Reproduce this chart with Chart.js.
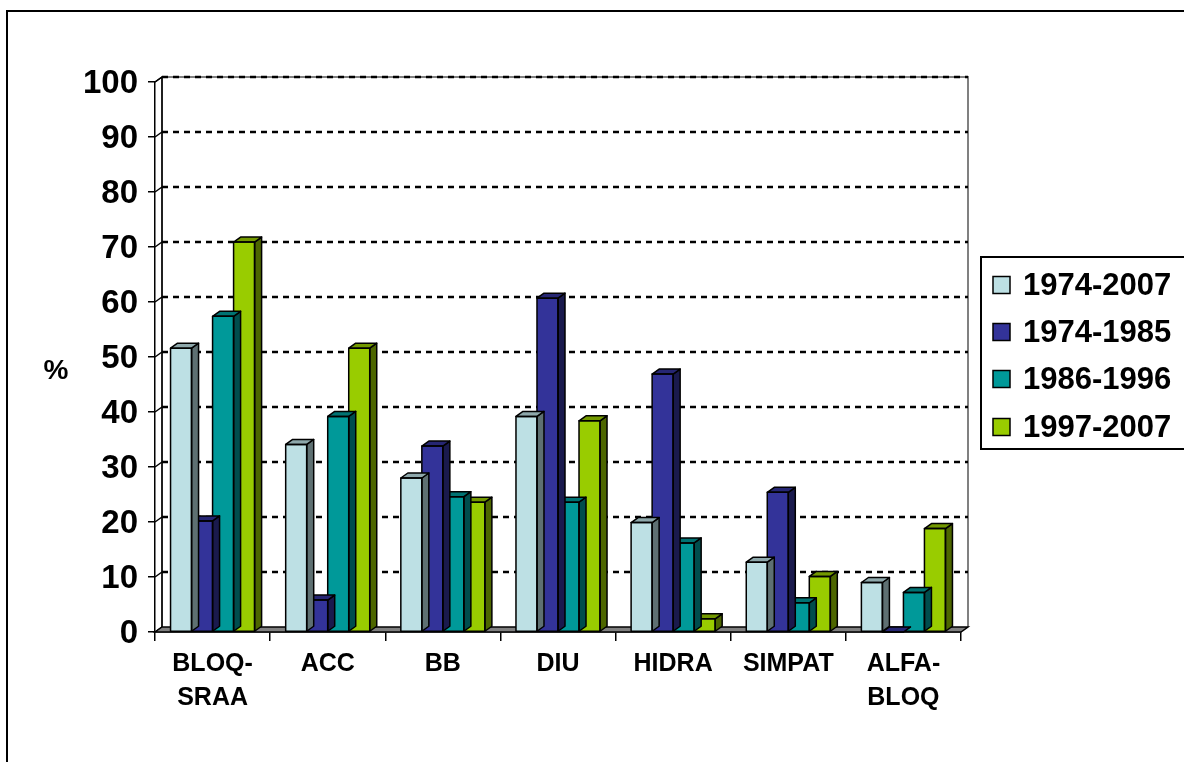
<!DOCTYPE html>
<html>
<head>
<meta charset="utf-8">
<script src="https://cdn.jsdelivr.net/npm/chart.js@4/dist/chart.umd.min.js"></script>
<style>
  html, body { margin: 0; padding: 0; background: #fff; }
  canvas { display: block; }
</style>
</head>
<body>
<canvas id="chart" width="1184" height="762"></canvas>
<script>
// Categories (multi-line labels as arrays)
const categories = [['BLOQ-', 'SRAA'], 'ACC', 'BB', 'DIU', 'HIDRA', 'SIMPAT', ['ALFA-', 'BLOQ']];

// Series values, in %
const period1974_2007 = [51.6, 34.1, 28.0, 39.2, 19.9, 12.7, 9.0];
const period1974_1985 = [20.2, 5.8, 33.8, 60.7, 46.9, 25.4, 0];
const period1986_1996 = [57.4, 39.2, 24.6, 23.6, 16.2, 5.3, 7.2];
const period1997_2007 = [70.9, 51.6, 23.6, 38.4, 2.4, 10.1, 18.8];

const seriesLabels = ['1974-2007', '1974-1985', '1986-1996', '1997-2007'];

// Value axis
const yMin = 0, yMax = 100, yStep = 10;

// Face colours: front, top, side
const palette = [
  { front: '#BDE0E4', top: '#8EA8AB', side: '#5E7072' },
  { front: '#333399', top: '#262673', side: '#1A1A4D' },
  { front: '#009999', top: '#007373', side: '#004D4D' },
  { front: '#99CC00', top: '#739900', side: '#4D6600' }
];

const FONT = "'Liberation Sans', Arial, Helvetica, sans-serif";
const DX = 7, DY = 5; // depth offset for the pseudo-3D look

const seriesData = [period1974_2007, period1974_1985, period1986_1996, period1997_2007];

const depthPlugin = {
  id: 'depth',
  beforeDraw(chart) {
    const ctx = chart.ctx;
    ctx.save();
    ctx.fillStyle = '#fff';
    ctx.fillRect(0, 0, chart.width, chart.height);
    // outer frame (runs off the canvas on the right and bottom)
    ctx.strokeStyle = '#000';
    ctx.lineWidth = 2;
    ctx.beginPath();
    ctx.moveTo(7, chart.height + 5);
    ctx.lineTo(7, 11);
    ctx.lineTo(chart.width + 5, 11);
    ctx.stroke();
    ctx.restore();
  },
  beforeDatasetsDraw(chart) {
    const ctx = chart.ctx;
    const a = chart.chartArea;
    const y = chart.scales.y;
    ctx.save();
    // back wall
    ctx.fillStyle = '#fff';
    ctx.fillRect(a.left + DX, a.top - DY, a.right - a.left, a.bottom - a.top);
    // wall outline
    ctx.strokeStyle = '#808080';
    ctx.lineWidth = 2;
    ctx.beginPath();
    ctx.moveTo(a.left + DX, a.bottom - DY);
    ctx.lineTo(a.left + DX, a.top - DY);
    ctx.lineTo(a.right + DX, a.top - DY);
    ctx.lineTo(a.right + DX, a.bottom - DY);
    ctx.stroke();
    ctx.strokeStyle = '#000';
    ctx.lineWidth = 1.5;
    ctx.beginPath();
    ctx.moveTo(a.left + DX, a.bottom - DY);
    ctx.lineTo(a.left + DX, a.top - DY);
    ctx.moveTo(a.left, a.top);
    ctx.lineTo(a.left + DX, a.top - DY);
    ctx.stroke();
    // dashed gridlines on back wall
    ctx.strokeStyle = '#000';
    ctx.lineWidth = 2.6;
    ctx.setLineDash([6, 5]);
    for (let v = yMin + yStep; v <= yMax; v += yStep) {
      const py = Math.round(y.getPixelForValue(v)) - DY;
      ctx.beginPath();
      ctx.moveTo(a.left + DX, py);
      ctx.lineTo(a.right + DX, py);
      ctx.stroke();
    }
    ctx.setLineDash([]);
    // gridlines across the left side wall
    ctx.lineWidth = 1.5;
    for (let v = yMin; v <= yMax; v += yStep) {
      const py = Math.round(y.getPixelForValue(v));
      ctx.beginPath();
      ctx.moveTo(a.left, py);
      ctx.lineTo(a.left + DX, py - DY);
      ctx.stroke();
    }
    // floor
    ctx.fillStyle = '#808080';
    ctx.strokeStyle = '#000';
    ctx.lineWidth = 1.5;
    ctx.beginPath();
    ctx.moveTo(a.left, a.bottom);
    ctx.lineTo(a.left + DX, a.bottom - DY);
    ctx.lineTo(a.right + DX, a.bottom - DY);
    ctx.lineTo(a.right, a.bottom);
    ctx.closePath();
    ctx.fill();
    ctx.stroke();
    ctx.restore();
  },
  afterDatasetDraw(chart, args) {
    const ctx = chart.ctx;
    const colors = palette[args.index];
    ctx.save();
    ctx.strokeStyle = '#000';
    ctx.lineWidth = 1.5;
    ctx.lineJoin = 'round';
    args.meta.data.forEach(bar => {
      const { x, y, base, width } = bar.getProps(['x', 'y', 'base', 'width'], true);
      const l = x - width / 2, r = x + width / 2;
      // right side
      ctx.fillStyle = colors.side;
      ctx.beginPath();
      ctx.moveTo(r, y);
      ctx.lineTo(r + DX, y - DY);
      ctx.lineTo(r + DX, base - DY);
      ctx.lineTo(r, base);
      ctx.closePath();
      ctx.fill();
      ctx.stroke();
      // top
      ctx.fillStyle = colors.top;
      ctx.beginPath();
      ctx.moveTo(l, y);
      ctx.lineTo(l + DX, y - DY);
      ctx.lineTo(r + DX, y - DY);
      ctx.lineTo(r, y);
      ctx.closePath();
      ctx.fill();
      ctx.stroke();
      // front outline
      ctx.strokeRect(l, y, width, base - y);
    });
    ctx.restore();
  },
  afterDraw(chart) {
    const ctx = chart.ctx;
    ctx.save();
    // unit label
    ctx.fillStyle = '#000';
    ctx.font = 'bold 28px ' + FONT;
    ctx.textAlign = 'center';
    ctx.textBaseline = 'middle';
    ctx.fillText('%', 56, 371);
    // legend box
    const bx = 981, by = 257, bb = 449;
    ctx.strokeStyle = '#000';
    ctx.lineWidth = 2;
    ctx.beginPath();
    ctx.moveTo(chart.width + 5, by);
    ctx.lineTo(bx, by);
    ctx.lineTo(bx, bb);
    ctx.lineTo(chart.width + 5, bb);
    ctx.stroke();
    const rows = [285, 332, 379, 427];
    chart.data.datasets.forEach((ds, i) => {
      const cy = rows[i];
      ctx.fillStyle = ds.backgroundColor;
      ctx.fillRect(993, cy - 8.5, 17, 17);
      ctx.lineWidth = 1.5;
      ctx.strokeRect(993, cy - 8.5, 17, 17);
      ctx.fillStyle = '#000';
      ctx.font = 'bold 31px ' + FONT;
      ctx.textAlign = 'left';
      ctx.textBaseline = 'middle';
      ctx.fillText(ds.label, 1023, cy + 1);
    });
    ctx.restore();
  }
};

new Chart(document.getElementById('chart'), {
  type: 'bar',
  data: {
    labels: categories,
    datasets: seriesData.map((values, i) => ({
      label: seriesLabels[i],
      data: values,
      backgroundColor: palette[i].front,
      borderWidth: 0,
      categoryPercentage: 0.73,
      barPercentage: 1.0
    }))
  },
  options: {
    responsive: false,
    devicePixelRatio: 1,
    animation: false,
    layout: { padding: { left: 0, top: 82, right: 223, bottom: 0 } },
    plugins: {
      legend: { display: false },
      tooltip: { enabled: false }
    },
    scales: {
      x: {
        offset: true,
        grid: {
          offset: true,
          drawOnChartArea: false,
          color: '#000',
          lineWidth: 1.5,
          tickLength: 9
        },
        border: { display: true, color: '#000', width: 1.5 },
        ticks: {
          color: '#000',
          padding: 6,
          maxRotation: 0,
          autoSkip: false,
          font: { family: FONT, size: 25, weight: 'bold', lineHeight: 1.36 }
        },
        afterFit(scale) { scale.height = 130; }
      },
      y: {
        min: yMin,
        max: yMax,
        grid: {
          drawOnChartArea: false,
          color: '#000',
          lineWidth: 1.5,
          tickLength: 7
        },
        border: { display: true, color: '#000', width: 1.5 },
        ticks: {
          stepSize: yStep,
          color: '#000',
          padding: 10,
          labelOffset: 2,
          font: { family: FONT, size: 33, weight: 'bold' }
        },
        afterFit(scale) { scale.width = 155; }
      }
    }
  },
  plugins: [depthPlugin]
});
</script>
</body>
</html>
